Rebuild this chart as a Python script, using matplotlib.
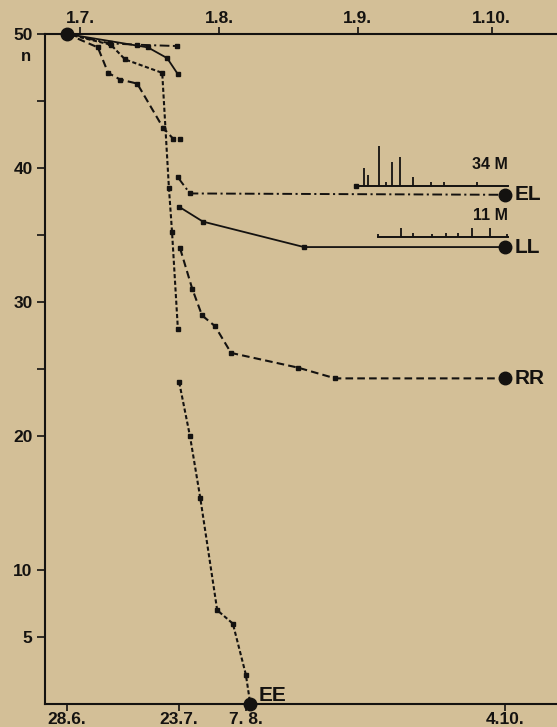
import matplotlib
matplotlib.use("Agg")
import matplotlib.pyplot as plt
import matplotlib.transforms as mtransforms

plt.rcParams['font.family'] = ['Liberation Sans', 'DejaVu Sans']
plt.rcParams['lines.scale_dashes'] = False

# x = days since 28.6.
top_ticks = [3, 34, 65, 95]
top_labels = ['1.7.', '1.8.', '1.9.', '1.10.']
bottom_ticks = [0, 25, 40, 98]
bottom_labels = ['28.6.', '23.7.', '7. 8.', '4.10.']

# first phase (all start from n = 50)
el1_x = [0, 9.6, 15.7, 24.6]
el1_y = [50, 49.3, 49.2, 49.1]
ll1_x = [0, 18.1, 22.4, 24.8]
ll1_y = [50, 49.0, 48.2, 47.0]
rr1_x = [0, 6.9, 9.2, 11.9, 15.7, 21.5, 23.7, 25.3]
rr1_y = [50, 49.0, 47.1, 46.6, 46.3, 43.0, 42.2, 42.2]
ee1_x = [0, 9.8, 13.0, 21.3, 22.8, 23.5, 24.8]
ee1_y = [50, 49.2, 48.1, 47.1, 38.5, 35.2, 28.0]

# second phase
el2_x = [24.8, 27.5, 98]
el2_y = [39.3, 38.1, 38.0]
ll2_x = [25.1, 30.4, 53.0, 98]
ll2_y = [37.1, 36.0, 34.1, 34.1]
rr2_x = [25.3, 28.0, 30.2, 33.1, 36.7, 51.7, 60.0, 98]
rr2_y = [34.0, 31.0, 29.0, 28.2, 26.2, 25.1, 24.3, 24.3]
ee2_x = [25.1, 27.5, 29.8, 33.6, 37.1, 40.0, 41.0]
ee2_y = [24.0, 20.0, 15.4, 7.0, 6.0, 2.2, 0.0]

# rainfall inserts
el_rain_days = [66.4, 67.3, 69.8, 71.4, 72.7, 74.5, 77.4, 81.4, 84.3, 91.7]
el_rain = [18, 11, 40, 4, 24, 29, 9, 4, 4, 4]
el_rain_span = [64.7, 98.7]
el_rain_total = '34 M'
ll_rain_days = [69.6, 74.7, 77.4, 81.7, 84.8, 87.5, 90.6, 94.6, 98.4]
ll_rain = [3, 9, 4, 3, 4, 4, 9, 9, 3]
ll_rain_span = [69.6, 98.7]
ll_rain_total = '11 M'

bg = '#d3bf97'
ink = '#141210'

fig = plt.figure(figsize=(5.57, 7.27), dpi=100, facecolor=bg)
ax = fig.add_axes([45 / 557, 23 / 727, 512 / 557, 670 / 727])
ax.set_facecolor(bg)
ax.set_xlim(-4.92, 109.6)
ax.set_ylim(0, 50)

styles = {
    'EL': dict(ls=(0, (7, 2.5, 1.5, 2.5)), lw=1.4),
    'LL': dict(ls='-', lw=1.3),
    'RR': dict(ls=(0, (5.5, 3)), lw=1.5),
    'EE': dict(ls=(0, (3, 1.8)), lw=1.5),
}
series = [
    ('EL', el1_x, el1_y, el2_x, el2_y),
    ('LL', ll1_x, ll1_y, ll2_x, ll2_y),
    ('RR', rr1_x, rr1_y, rr2_x, rr2_y),
    ('EE', ee1_x, ee1_y, ee2_x, ee2_y),
]
for name, x1, y1, x2, y2 in series:
    st = styles[name]
    ax.plot(x1, y1, color=ink, marker='s', ms=3, markevery=list(range(1, len(x1))),
            clip_on=False, **st)
    ax.plot(x2, y2, color=ink, marker='s', ms=3, markevery=list(range(0, len(x2) - 1)),
            clip_on=False, **st)
    ax.plot(x2[-1], y2[-1], 'o', color=ink, ms=9, clip_on=False, zorder=5)
    if name == 'EE':
        off = (6, 6)
    else:
        off = (7, 0)
    ax.annotate(name, (x2[-1], y2[-1]), xytext=off, textcoords='offset points',
                ha='left', va='center', fontsize=15, fontweight='bold', color=ink)

ax.plot(0, 50, 'o', color=ink, ms=9, clip_on=False, zorder=5)

# rainfall inserts: baseline just above the plateau, bars scaled to n units
rain_scale = 1 / 13.4
for days, vals, span, total, base in [
        (el_rain_days, el_rain, el_rain_span, el_rain_total, 38.66),
        (ll_rain_days, ll_rain, ll_rain_span, ll_rain_total, 34.85)]:
    ax.plot(span, [base, base], color=ink, lw=1.4)
    ax.vlines(days, base, [base + v * rain_scale for v in vals], color=ink, lw=1.3)
    ax.annotate(total, (span[1], base), xytext=(0, 10), textcoords='offset points',
                ha='right', va='bottom', fontsize=11.5, fontweight='bold', color=ink)
ax.plot(el_rain_span[0], 38.66, 's', color=ink, ms=3)

# axes
for s in ['left', 'top', 'bottom']:
    ax.spines[s].set_color(ink)
    ax.spines[s].set_linewidth(1.5)
ax.spines['right'].set_visible(False)

ax.set_yticks([5, 10, 20, 30, 40, 50])
ax.set_yticks([25, 35, 45], minor=True)
ax.tick_params(axis='y', which='both', direction='out', length=6, width=1.2,
               color=ink, labelcolor=ink, labelsize=12.5, pad=3)
for lab in ax.get_yticklabels():
    lab.set_fontweight('bold')

ax.set_xticks(bottom_ticks)
ax.set_xticklabels(bottom_labels, fontsize=12.5, fontweight='bold', color=ink)
ax.tick_params(axis='x', direction='out', length=5, width=1.2, color=ink, pad=1)

top = ax.secondary_xaxis('top')
top.set_xticks(top_ticks)
top.set_xticklabels(top_labels, fontsize=12.5, fontweight='bold', color=ink)
top.tick_params(axis='x', direction='out', length=5, width=1.2, color=ink, pad=1)
top.spines['top'].set_visible(False)

trans = mtransforms.blended_transform_factory(ax.transAxes, ax.transData)
ax.text(-0.038, 48.3, 'n', transform=trans, ha='center', va='center',
        fontsize=12, fontweight='bold', color=ink)

fig.savefig('out.png', dpi=100, facecolor=bg)
